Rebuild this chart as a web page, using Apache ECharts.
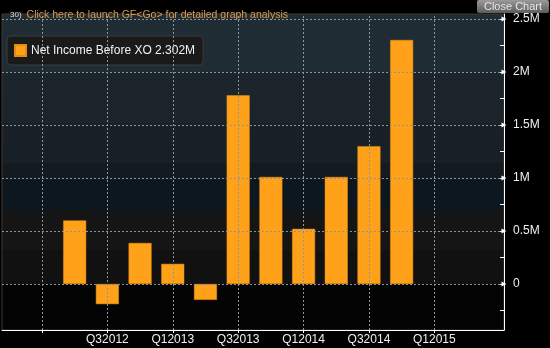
<!DOCTYPE html>
<html>
<head>
<meta charset="utf-8">
<script src="https://cdn.jsdelivr.net/npm/echarts@6/dist/echarts.min.js"></script>
<style>
  html, body { margin: 0; padding: 0; background: #000; }
  #chart { width: 550px; height: 348px; }
</style>
</head>
<body>
<div id="chart"></div>
<script>
// Quarter index 0 = Q1 2012
const quarters = [1, 2, 3, 4, 5, 6, 7, 8, 9, 10, 11];
const netIncome = [0.60, -0.19, 0.387, 0.19, -0.15, 1.78, 1.01, 0.52, 1.01, 1.30, 2.302]; // millions
const quarterLabels = { 2: 'Q32012', 4: 'Q12013', 6: 'Q32013', 8: 'Q12014', 10: 'Q32014', 12: 'Q12015' };
const xGridQuarters = [0, 2, 4, 6, 8, 10, 12];
const yMajor = [0, 0.5, 1, 1.5, 2, 2.5];
const yMinor = [-0.25, 0.25, 0.75, 1.25, 1.75, 2.25];
const seriesName = 'Net Income Before XO';
const lastValue = '2.302M';

const X_MIN = -1.223, X_MAX = 14.13;
const Y_MIN = -0.434, Y_MAX = 2.547;

const font = 'Liberation Sans, Arial, sans-serif';
const gridLine = { color: '#8c969c', width: 1, type: [2, 2] };

const chart = echarts.init(document.getElementById('chart'));

const bg = new echarts.graphic.LinearGradient(0, 0, 0, 1, [
  { offset: 0, color: '#202c33' }, { offset: 0.184, color: '#202c33' },
  { offset: 0.184, color: '#1c252c' }, { offset: 0.345, color: '#1b242b' },
  { offset: 0.345, color: '#192027' }, { offset: 0.471, color: '#182027' },
  { offset: 0.471, color: '#131a20' }, { offset: 0.525, color: '#131a20' },
  { offset: 0.525, color: '#0d1720' }, { offset: 0.62, color: '#0d1720' },
  { offset: 0.62, color: '#151515' }, { offset: 0.747, color: '#151515' },
  { offset: 0.747, color: '#111111' }, { offset: 0.854, color: '#111111' },
  { offset: 0.854, color: '#040404' }, { offset: 1, color: '#040404' }
]);

const gridMarks = [];
xGridQuarters.forEach(q => gridMarks.push({ xAxis: q, lineStyle: gridLine }));
yMajor.forEach(v => gridMarks.push({ yAxis: v, lineStyle: gridLine }));

// small white pointers on the value axis at each major level
const arrowMarks = yMajor.map(v => [
  { coord: [X_MAX - 0.12, v], lineStyle: { color: '#ffffff', width: 1, type: 'solid' } },
  { coord: [X_MAX, v] }
]);

chart.setOption({
  backgroundColor: '#000000',
  animation: false,
  title: {
    left: 5, top: 1,
    text: '{n|30)} {t|Click here to launch GF<Go> for detailed graph analysis}',
    textStyle: {
      fontWeight: 'normal',
      rich: {
        n: { color: '#e8dcc8', fontSize: 8, fontWeight: 'normal', fontFamily: font },
        t: { color: '#d99a50', fontSize: 10.5, fontWeight: 'normal', fontFamily: font }
      }
    }
  },
  graphic: [
    {
      type: 'group', right: 1, top: 0,
      children: [
        { type: 'rect', shape: { x: 0, y: 0, width: 72, height: 13, r: 2 },
          style: { fill: new echarts.graphic.LinearGradient(0, 0, 0, 1, [
            { offset: 0, color: '#9a9a9a' }, { offset: 1, color: '#5c5c5c' }]) } },
        { type: 'text', x: 36, y: 6.5,
          style: { text: 'Close Chart', fill: '#e6e6e6', font: '11px ' + font,
                   align: 'center', verticalAlign: 'middle' } }
      ]
    }
  ],
  legend: {
    left: 7, top: 36,
    padding: [8, 8, 8, 7],
    backgroundColor: '#1a1a1a',
    borderColor: '#3a3a3a', borderWidth: 1, borderRadius: 4,
    itemWidth: 11, itemHeight: 11, itemGap: 5,
    icon: 'rect',
    textStyle: { color: '#f2f2f2', fontSize: 12, fontFamily: font },
    formatter: name => name + ' ' + lastValue,
    data: [seriesName]
  },
  grid: {
    left: 2, right: 46, top: 14, bottom: 18,
    show: true, backgroundColor: bg, borderColor: '#3a3a3a', borderWidth: 1
  },
  xAxis: {
    type: 'value', min: X_MIN, max: X_MAX,
    axisLine: { show: true, onZero: false, lineStyle: { color: '#ffffff', width: 1 } },
    axisTick: { show: true, length: 3, customValues: xGridQuarters, lineStyle: { color: '#ffffff' } },
    axisLabel: {
      customValues: Object.keys(quarterLabels).map(Number),
      formatter: v => quarterLabels[v] || '',
      color: '#f0f0f0', fontSize: 12, fontFamily: font, margin: 4
    },
    splitLine: { show: false }
  },
  yAxis: {
    type: 'value', position: 'right', min: Y_MIN, max: Y_MAX,
    axisLine: { show: true, onZero: false, lineStyle: { color: '#ffffff', width: 1 } },
    axisTick: { show: true, inside: true, length: 4, customValues: yMinor, lineStyle: { color: '#ffffff' } },
    axisLabel: {
      customValues: yMajor,
      formatter: v => (v === 0 ? '0' : v + 'M'),
      color: '#f0f0f0', fontSize: 12, fontFamily: font, margin: 9
    },
    splitLine: { show: false }
  },
  series: [
    {
      name: seriesName,
      type: 'bar',
      barWidth: 23,
      itemStyle: { color: '#ffa21a', borderColor: '#e48c12', borderWidth: 0.5 },
      data: quarters.map((q, i) => [q, netIncome[i]]),
      markLine: {
        silent: true, symbol: ['none', 'none'], label: { show: false },
        emphasis: { disabled: true },
        data: gridMarks
      },
      z: 3
    },
    {
      type: 'line',
      data: [],
      markLine: {
        silent: true, symbol: ['none', 'triangle'], symbolSize: [5, 5],
        label: { show: false },
        data: arrowMarks
      }
    }
  ]
});
</script>
</body>
</html>
